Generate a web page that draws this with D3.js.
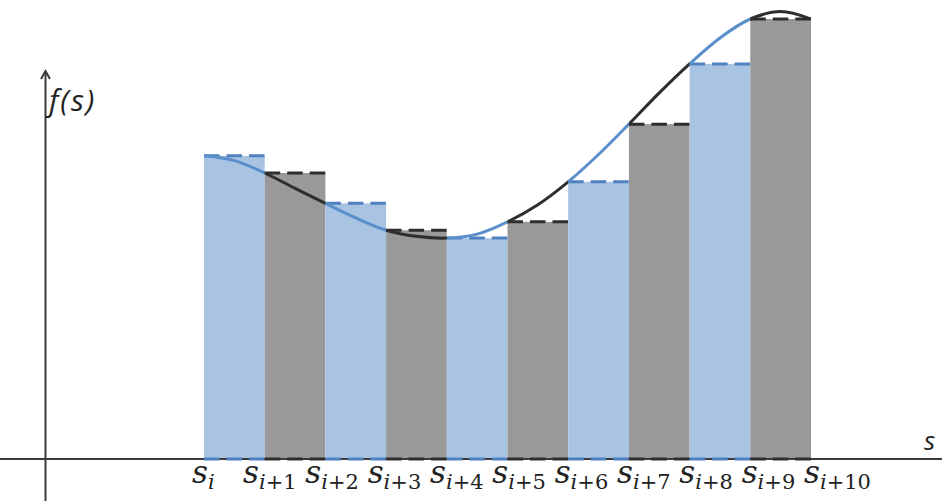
<!DOCTYPE html>
<html>
<head>
<meta charset="utf-8">
<script src="https://cdn.jsdelivr.net/npm/d3@7"></script>
<style>
  html, body { margin: 0; padding: 0; background: #fff; }
  svg { display: block; }
</style>
</head>
<body>
<svg id="chart" width="942" height="501"></svg>
<script>
// Step indices s_i ... s_{i+10}
const stepIndex = [0, 1, 2, 3, 4, 5, 6, 7, 8, 9, 10];
const subscriptLabels = ["i", "i+1", "i+2", "i+3", "i+4", "i+5", "i+6", "i+7", "i+8", "i+9", "i+10"];

// Height of each rectangle: f evaluated at the left end of its interval
const barValues = [68.9, 65.0, 58.1, 52.0, 50.2, 53.9, 63.0, 76.1, 89.8, 100.0];

// Samples of the smooth function f(s), at the steps and half-steps
const curveS = [0, 0.5, 1, 1.5, 2, 2.5, 3, 3.5, 4, 4.5, 5, 5.5, 6, 6.5, 7, 7.5, 8, 8.5, 9, 9.5, 10];
const curveF = [68.9, 67.8, 65.0, 61.5, 58.1, 54.8, 52.0, 50.6, 50.2, 51.1, 53.9, 57.8, 63.0, 69.2, 76.1, 83.2, 89.8, 95.7, 100.0, 101.7, 100.0];

const colors = {
  blueBar: "#a9c4e2",
  grayBar: "#999999",
  blueLine: "#5b8fcc",
  blueDash: "#4f81c0",
  darkLine: "#2e2e2e",
  axis: "#3a3a3a",
  text: "#222222"
};

const svg = d3.select("#chart");
const W = 942, H = 501;

const x = d3.scaleLinear().domain([0, 10]).range([204, 811]);
const y = d3.scaleLinear().domain([0, 100]).range([459, 19]);
// Start positions of the subscripted tick labels along the row under the axis
const labelX = d3.scaleLinear().domain([1, 10]).range([243, 804]);

const bars = barValues.map((v, k) => ({ k, v, blue: k % 2 === 0 }));

// Rectangles
svg.append("g").selectAll("rect").data(bars).join("rect")
  .attr("x", d => x(d.k))
  .attr("width", d => x(d.k + 1) - x(d.k))
  .attr("y", d => y(d.v))
  .attr("height", d => y(0) - y(d.v))
  .attr("fill", d => d.blue ? colors.blueBar : colors.grayBar);

// Clip regions: one per colour of interval
const defs = svg.append("defs");
["blue", "dark"].forEach(name => {
  defs.append("clipPath").attr("id", "clip-" + name)
    .selectAll("rect")
    .data(bars.filter(d => (name === "blue") === d.blue))
    .join("rect")
    .attr("x", d => x(d.k))
    .attr("width", d => x(d.k + 1) - x(d.k))
    .attr("y", 0)
    .attr("height", H);
});

// Axes
const axisG = svg.append("g").attr("stroke", colors.axis).attr("stroke-width", 2).attr("fill", "none");
axisG.append("line").attr("x1", 0).attr("x2", W).attr("y1", y(0)).attr("y2", y(0));
const yAxisX = 45.5;
axisG.append("line").attr("x1", yAxisX).attr("x2", yAxisX).attr("y1", H).attr("y2", 71);
axisG.append("path")
  .attr("d", `M${yAxisX - 4.5},79 L${yAxisX},71 L${yAxisX + 4.5},79`)
  .attr("stroke-linejoin", "miter");

// Dashed lines along top and bottom of each rectangle
const dashG = svg.append("g").attr("stroke-width", 3).attr("stroke-dasharray", "15.5,7");
bars.forEach(d => {
  const stroke = d.blue ? colors.blueDash : colors.darkLine;
  [d.v, 0].forEach(level => {
    dashG.append("line")
      .attr("x1", x(d.k)).attr("x2", x(d.k + 1))
      .attr("y1", y(level)).attr("y2", y(level))
      .attr("stroke", stroke);
  });
});

// The function f(s), coloured by interval
const curvePts = curveS.map((s, i) => [s, curveF[i]]);
const line = d3.line().x(d => x(d[0])).y(d => y(d[1])).curve(d3.curveCatmullRom.alpha(0.5));
svg.append("path").attr("d", line(curvePts))
  .attr("fill", "none").attr("stroke", colors.blueLine).attr("stroke-width", 3)
  .attr("clip-path", "url(#clip-blue)");
svg.append("path").attr("d", line(curvePts))
  .attr("fill", "none").attr("stroke", colors.darkLine).attr("stroke-width", 3)
  .attr("clip-path", "url(#clip-dark)");

// Axis titles
svg.append("text").attr("x", 49).attr("y", 111)
  .attr("font-family", "'Open Sans', sans-serif").attr("font-style", "italic")
  .attr("font-size", 30).attr("letter-spacing", 2).attr("fill", colors.text).text("f(s)");
svg.append("text").attr("x", 924).attr("y", 450)
  .attr("font-family", "'Open Sans', sans-serif").attr("font-style", "italic")
  .attr("font-size", 26).attr("fill", colors.text).text("s");

// Tick labels s_{i+k}
const tickG = svg.append("g").attr("font-family", "'DejaVu Serif', serif").attr("fill", colors.text);
stepIndex.forEach(k => {
  const startX = k === 0 ? x(0) - 12 : labelX(k);
  const t = tickG.append("text").attr("x", startX).attr("y", 483);
  t.append("tspan").attr("font-size", 31).attr("font-style", "italic").text("s");
  const sub = subscriptLabels[k];
  t.append("tspan").attr("font-size", 21).attr("font-style", "italic").attr("dy", 6).text(sub[0]);
  if (sub.length > 1) {
    t.append("tspan").attr("font-size", 21).text(sub.slice(1));
  }
});
</script>
</body>
</html>
